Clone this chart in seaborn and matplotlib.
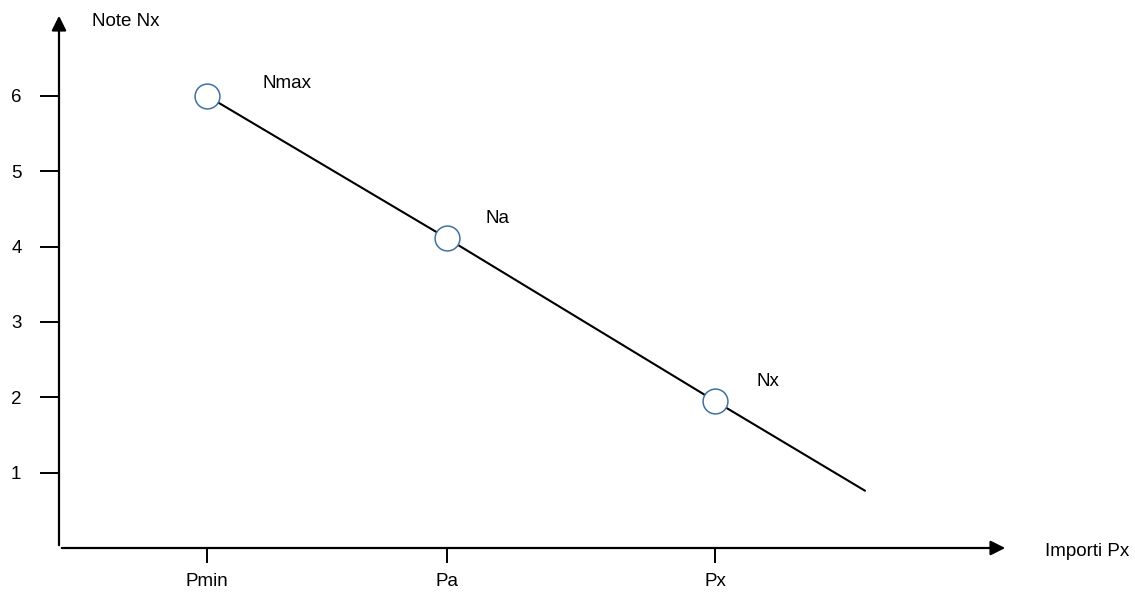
import matplotlib
matplotlib.use("Agg")
import matplotlib.pyplot as plt
import pandas as pd
import seaborn as sns

# ===================== DATA =====================
tick_labels = ["Pmin", "Pa", "Px"]
tick_x = [1.48, 3.88, 6.56]
y_ticks = [1, 2, 3, 4, 5, 6]

point_names = ["Nmax", "Na", "Nx"]
point_x = [1.48, 3.88, 6.56]
point_y = [6.0, 4.11, 1.95]

# line continues past Nx
line_end_x = 8.06
line_end_y = 0.76

x_title = "Importi Px"
y_title = "Note Nx"

# ===================== STYLE =====================
sns.set_style("white")
plt.rcParams["font.family"] = ["Liberation Sans", "DejaVu Sans"]
plt.rcParams["text.color"] = "black"

fig = plt.figure(figsize=(11.35, 5.94), dpi=100)
ax = fig.add_axes([59 / 1135, 46 / 594, 949 / 1135, 535 / 594])
ax.set_xlim(0, 9.49)
ax.set_ylim(0, 7.1)

for side in ["top", "right", "left", "bottom"]:
    ax.spines[side].set_visible(False)

# axis arrows
arrow = dict(arrowstyle="-|>", color="black", lw=1.6, mutation_scale=22)
ax.annotate("", xy=(1, 0), xytext=(0, 0), xycoords="axes fraction",
            textcoords="axes fraction", arrowprops=arrow, annotation_clip=False)
ax.annotate("", xy=(0, 1), xytext=(0, 0), xycoords="axes fraction",
            textcoords="axes fraction", arrowprops=arrow, annotation_clip=False)

# ===================== LINE + POINTS =====================
line_df = pd.DataFrame({"x": point_x + [line_end_x], "y": point_y + [line_end_y]})
sns.lineplot(data=line_df, x="x", y="y", color="black", lw=1.5, ax=ax,
             sort=False, zorder=2)

pts = pd.DataFrame({"x": point_x, "y": point_y, "name": point_names})
sns.scatterplot(data=pts, x="x", y="y", s=320, color="white",
                edgecolor="#41719C", linewidth=1.1, ax=ax, zorder=3)

label_offsets = {"Nmax": (40, 9), "Na": (28, 14), "Nx": (30, 14)}
for _, r in pts.iterrows():
    ax.annotate(r["name"], (r["x"], r["y"]), xytext=label_offsets[r["name"]],
                textcoords="offset points", fontsize=13.5, va="center",
                ha="left", color="black")

# ===================== TICKS =====================
ax.set_xticks(tick_x, tick_labels)
ax.set_yticks(y_ticks, [str(v) for v in y_ticks])
ax.tick_params(axis="y", direction="out", length=14, width=1.4, pad=13,
               labelsize=13.5, left=True, colors="black")
ax.tick_params(axis="x", direction="out", length=11, width=1.4, pad=7,
               labelsize=13.5, bottom=True, colors="black")
ax.set_xlabel("")
ax.set_ylabel("")

fig.text(92 / 1135, 1 - 22 / 594, y_title, fontsize=13.5, va="center",
         ha="left", color="black")
fig.text(1045 / 1135, 1 - 551 / 594, x_title, fontsize=13.5, va="center",
         ha="left", color="black")

fig.savefig("out.png", dpi=100, facecolor="white")
